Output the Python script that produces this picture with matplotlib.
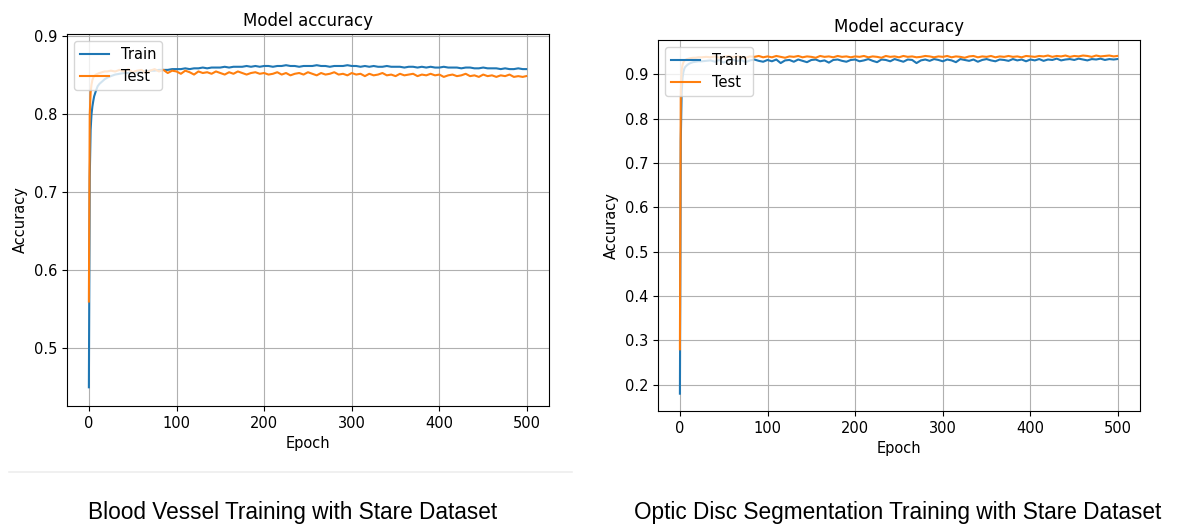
import numpy as np
import matplotlib
matplotlib.use("Agg")
import matplotlib.pyplot as plt
from matplotlib.lines import Line2D

# epochs sampled from the curves (dense at start, then every 5)
epochs = [0, 1, 2, 3, 4, 5, 6, 8, 10, 12, 15, 18, 21, 25, 30] + list(range(35, 500, 5)) + [499]

# blood vessel model
vessel_train = [0.450, 0.720, 0.780, 0.800, 0.810, 0.817, 0.823, 0.830, 0.836, 0.839, 0.842, 0.845, 0.847, 0.849, 0.851,
                0.852, 0.853, 0.853, 0.854, 0.854, 0.855, 0.855, 0.856, 0.856, 0.857, 0.857, 0.857, 0.858,
                0.858, 0.858, 0.859, 0.858, 0.859, 0.859, 0.860, 0.859, 0.860, 0.860, 0.860, 0.861, 0.860, 0.861, 0.861, 0.861, 0.862, 0.861, 0.862, 0.861,
                0.862, 0.862, 0.861, 0.862, 0.862, 0.863, 0.862, 0.862, 0.861, 0.862, 0.862, 0.862, 0.863, 0.862, 0.862, 0.861, 0.862, 0.862, 0.862, 0.863,
                0.862, 0.862, 0.861, 0.862, 0.861, 0.862, 0.861, 0.861, 0.862, 0.861, 0.861, 0.861, 0.860, 0.861, 0.861, 0.860, 0.861, 0.860, 0.861, 0.860,
                0.860, 0.861, 0.860, 0.860, 0.860, 0.859, 0.860, 0.860, 0.859, 0.859, 0.860, 0.859, 0.859, 0.859, 0.858, 0.859, 0.858, 0.858, 0.859, 0.858,
                0.858]
vessel_test = [0.560, 0.800, 0.828, 0.838, 0.844, 0.847, 0.849, 0.851, 0.852, 0.853, 0.854, 0.855, 0.855, 0.856, 0.855,
               0.857, 0.855, 0.858, 0.854, 0.856, 0.857, 0.853, 0.856, 0.858, 0.855, 0.857, 0.853, 0.856,
               0.855, 0.852, 0.856, 0.854, 0.851, 0.855, 0.853, 0.854, 0.852, 0.855, 0.853, 0.851, 0.854, 0.852, 0.855, 0.853, 0.851, 0.853, 0.854, 0.852,
               0.853, 0.851, 0.852, 0.854, 0.851, 0.853, 0.850, 0.852, 0.853, 0.851, 0.854, 0.852, 0.850, 0.853, 0.851, 0.852, 0.854, 0.851, 0.852, 0.850,
               0.853, 0.851, 0.852, 0.849, 0.852, 0.850, 0.851, 0.853, 0.850, 0.851, 0.849, 0.852, 0.850, 0.851, 0.852, 0.849, 0.851, 0.850, 0.852, 0.850,
               0.851, 0.848, 0.850, 0.851, 0.849, 0.850, 0.852, 0.849, 0.850, 0.848, 0.851, 0.849, 0.850, 0.848, 0.850, 0.849, 0.851, 0.848, 0.849, 0.848,
               0.849]

# optic disc model
disc_train = [0.180, 0.750, 0.860, 0.892, 0.905, 0.912, 0.916, 0.920, 0.923, 0.925, 0.927, 0.928, 0.929, 0.929, 0.930,
              0.931, 0.928, 0.932, 0.926, 0.931, 0.933, 0.929, 0.932, 0.927, 0.931, 0.933, 0.930, 0.928,
              0.932, 0.929, 0.933, 0.925, 0.931, 0.932, 0.928, 0.933, 0.930, 0.927, 0.932, 0.933, 0.929, 0.931, 0.926, 0.932, 0.933, 0.930, 0.928, 0.932,
              0.933, 0.929, 0.931, 0.934, 0.930, 0.927, 0.933, 0.932, 0.929, 0.934, 0.931, 0.928, 0.933, 0.932, 0.925, 0.931, 0.933, 0.930, 0.934, 0.932,
              0.929, 0.933, 0.931, 0.927, 0.934, 0.932, 0.930, 0.933, 0.928, 0.932, 0.934, 0.931, 0.929, 0.933, 0.932, 0.930, 0.934, 0.931, 0.933, 0.929,
              0.933, 0.931, 0.934, 0.930, 0.933, 0.932, 0.935, 0.931, 0.933, 0.934, 0.932, 0.935, 0.933, 0.931, 0.934, 0.933, 0.935, 0.932, 0.934, 0.933,
              0.934]
disc_test = [0.280, 0.862, 0.908, 0.921, 0.927, 0.930, 0.932, 0.934, 0.935, 0.936, 0.937, 0.937, 0.938, 0.938, 0.939,
             0.938, 0.940, 0.937, 0.939, 0.941, 0.938, 0.940, 0.939, 0.937, 0.940, 0.939, 0.941, 0.938,
             0.940, 0.938, 0.941, 0.939, 0.937, 0.940, 0.939, 0.941, 0.938, 0.940, 0.939, 0.937, 0.941, 0.939, 0.940, 0.938, 0.941, 0.939, 0.940, 0.938,
             0.940, 0.939, 0.941, 0.938, 0.940, 0.939, 0.937, 0.941, 0.939, 0.940, 0.938, 0.941, 0.939, 0.940, 0.938, 0.939, 0.941, 0.940, 0.938, 0.940,
             0.939, 0.941, 0.938, 0.940, 0.939, 0.937, 0.940, 0.941, 0.938, 0.940, 0.939, 0.941, 0.938, 0.940, 0.939, 0.941, 0.939, 0.940, 0.938, 0.941,
             0.940, 0.939, 0.941, 0.940, 0.942, 0.939, 0.941, 0.940, 0.942, 0.939, 0.941, 0.940, 0.942, 0.941, 0.939, 0.942, 0.940, 0.941, 0.942, 0.940,
             0.941]

captions = ["Blood Vessel Training with Stare Dataset",
            "Optic Disc Segmentation Training with Stare Dataset"]

fig = plt.figure(figsize=(11.79, 5.29), dpi=100)

ax1 = fig.add_axes([0.0568, 0.2325, 0.4088, 0.7032])
ax2 = fig.add_axes([0.5581, 0.2231, 0.4088, 0.7013])

panels = [(ax1, vessel_train, vessel_test, (0.426, 0.903)),
          (ax2, disc_train, disc_test, (0.141, 0.977))]

for ax, train, test, ylim in panels:
    ax.plot(epochs, train, label="Train")
    ax.plot(epochs, test, label="Test")
    ax.set_title("Model accuracy", fontsize=12)
    ax.set_xlabel("Epoch", fontsize=10.5)
    ax.set_ylabel("Accuracy", fontsize=10.5)
    ax.tick_params(labelsize=10.5)
    ax.set_xlim(-25, 525)
    ax.set_ylim(*ylim)
    ax.grid(True)
    ax.legend(loc="upper left", fontsize=10.5)

# faint separator under the left chart
fig.add_artist(Line2D([9 / 1179, 572 / 1179], [1 - 472 / 529, 1 - 472 / 529],
                      color="#eeeeee", lw=1.2, transform=fig.transFigure))

fig.text(293 / 1179, 1 - 512 / 529, captions[0], ha="center", va="center",
         fontsize=16.3, family="Liberation Sans")
fig.text(898 / 1179, 1 - 512 / 529, captions[1], ha="center", va="center",
         fontsize=16.3, family="Liberation Sans")

fig.savefig("out.png", dpi=100)
